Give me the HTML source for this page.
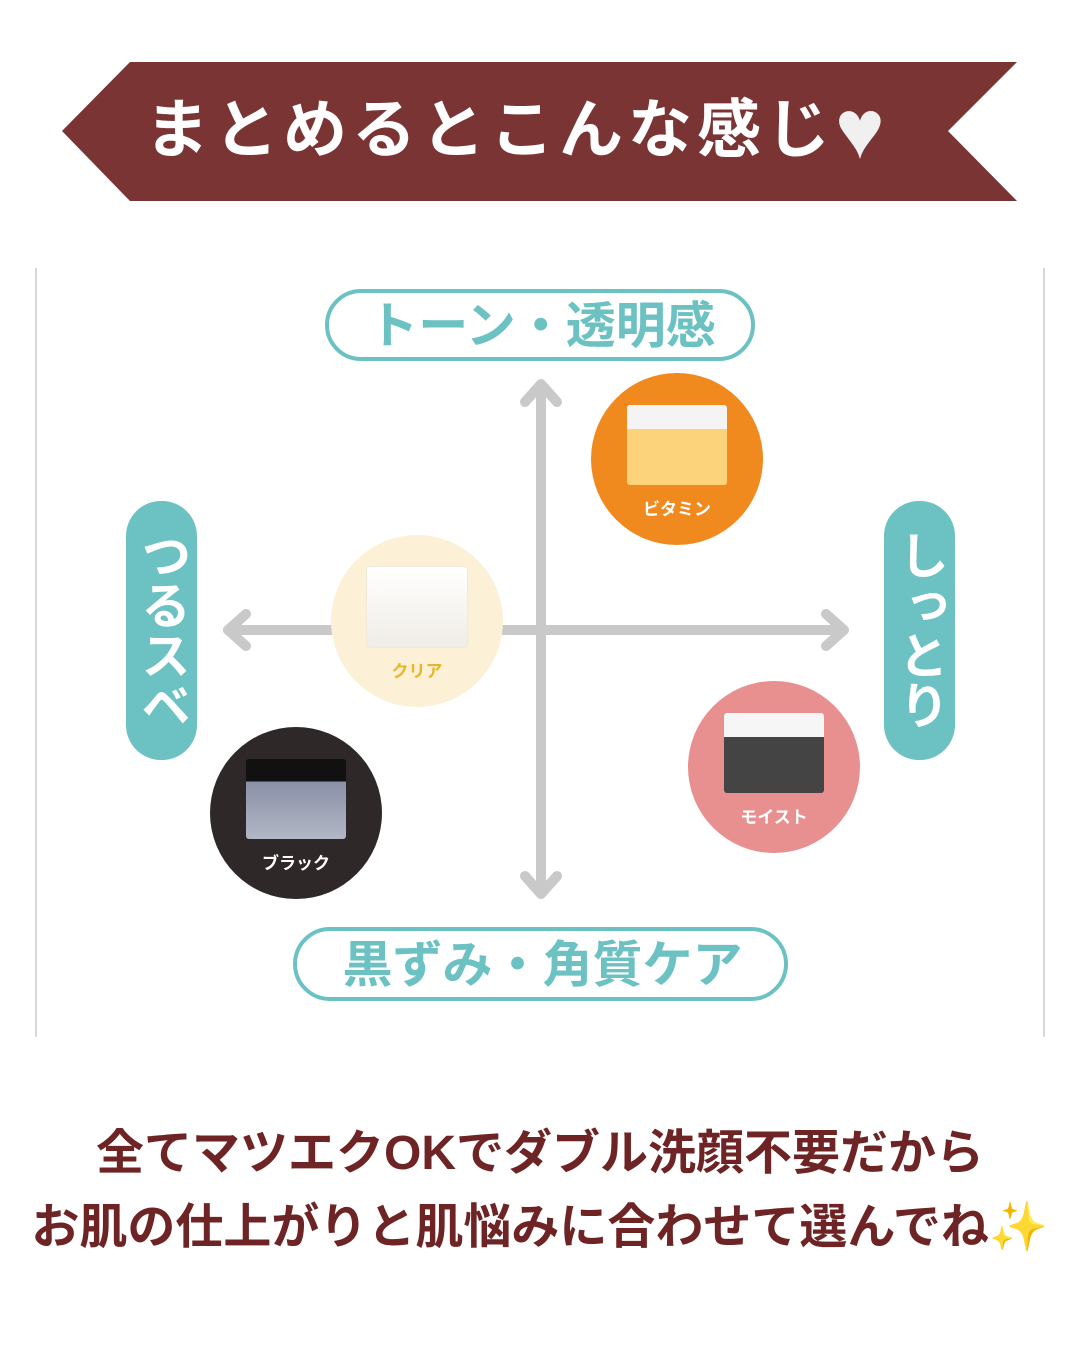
<!DOCTYPE html>
<html><head><meta charset="utf-8"><style>
body{margin:0;width:1080px;height:1350px;background:#fff;position:relative;overflow:hidden;font-family:"Liberation Sans","Noto Sans CJK JP",sans-serif}
.a{position:absolute}
.c{position:absolute;border-radius:50%;width:172px;height:172px}
.jar{position:absolute;left:36px;top:32px;width:100px;height:80px;border-radius:3px}
.lbl{position:absolute;width:172px;text-align:center;top:122px;font-weight:bold;font-size:17px}
</style></head><body>
<svg class="a" style="left:0;top:0" width="1080" height="1350">
<polygon points="130,62 1017,62 948,131 1017,201 130,201 62,131" fill="#7a3433"/>
<line x1="36" y1="268" x2="36" y2="1037" stroke="#ccc" stroke-width="1.5"/>
<line x1="1044" y1="268" x2="1044" y2="1037" stroke="#ccc" stroke-width="1.5"/>
<g stroke="#c9c9c9" stroke-width="10" fill="none" stroke-linecap="round" stroke-linejoin="round">
<line x1="541" y1="385" x2="541" y2="893"/>
<polyline points="525,402 541,384 557,402"/>
<polyline points="525,876 541,894 557,876"/>
<line x1="228" y1="630" x2="843" y2="630"/>
<polyline points="246,614 228,630 246,646"/>
<polyline points="826,614 844,630 826,646"/>
</g>
<rect x="327" y="291" width="426" height="68" rx="34" fill="#fff" stroke="#6cc1c3" stroke-width="4"/>
<rect x="295" y="929" width="491" height="70" rx="35" fill="#fff" stroke="#6cc1c3" stroke-width="4"/>
<rect x="126" y="501" width="71" height="259" rx="35" fill="#6cc1c3"/>
<rect x="884" y="501" width="71" height="259" rx="35" fill="#6cc1c3"/>
</svg>
<div class="a" style="left:145px;top:84px;width:900px;color:#fff;font-weight:bold;font-size:64px;letter-spacing:5px;line-height:90px;white-space:nowrap">まとめるとこんな感じ<span style="color:#f0f0f0;font-size:84px;vertical-align:-6px">♥</span></div>
<div class="a" style="left:327px;top:291px;width:430px;text-align:center;line-height:70px;font-size:50px;font-weight:bold;color:#6cc1c3">トーン・透明感</div>
<div class="a" style="left:295px;top:929px;width:495px;text-align:center;line-height:72px;font-size:50px;font-weight:bold;color:#6cc1c3">黒ずみ・角質ケア</div>
<div class="a" style="left:126px;top:505px;width:71px;text-align:center;font-size:50px;line-height:71px;font-weight:bold;color:#fff;writing-mode:vertical-rl;height:250px">つるスベ</div>
<div class="a" style="left:884px;top:505px;width:71px;text-align:center;font-size:50px;line-height:71px;font-weight:bold;color:#fff;writing-mode:vertical-rl;height:250px">しっとり</div>
<div class="c" style="left:591px;top:373px;background:#f18a1e"><div class="jar" style="background:linear-gradient(#f4f4f4 0 30%,#fcd27a 30%)"></div><div class="lbl" style="color:#fff">ビタミン</div></div>
<div class="c" style="left:331px;top:535px;background:#fcf1d6"><div class="jar" style="background:linear-gradient(#fff,#f0ede6);box-shadow:0 0 2px #ddd"></div><div class="lbl" style="color:#e6b72a">クリア</div></div>
<div class="c" style="left:210px;top:727px;background:#2f2828"><div class="jar" style="background:linear-gradient(#111 0 28%,#8a90a6 28%,#b2b7c6)"></div><div class="lbl" style="color:#fff">ブラック</div></div>
<div class="c" style="left:688px;top:681px;background:#e89090"><div class="jar" style="background:linear-gradient(#f6f6f6 0 30%,#444 30%)"></div><div class="lbl" style="color:#fff">モイスト</div></div>
<div class="a" style="left:0;top:1117px;width:1080px;text-align:center;font-size:48px;font-weight:bold;color:#6e2424;line-height:74px;white-space:nowrap">全てマツエクOKでダブル洗顔不要だから<br>お肌の仕上がりと肌悩みに合わせて選んでね<span style="color:#f2c94c">✨</span></div>
</body></html>
